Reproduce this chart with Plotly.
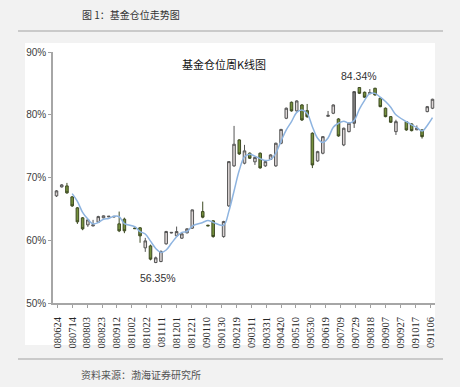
import pandas as pd
import plotly.graph_objects as go

# ---------------- data ----------------
tick_labels = ["080624", "080714", "080803", "080823", "080912", "081002", "081022",
               "081111", "081201", "081221", "090110", "090130", "090219", "090311",
               "090331", "090420", "090510", "090530", "090619", "090709", "090729",
               "090818", "090907", "090927", "091017", "091106"]

holiday_weeks = ["2008-09-29", "2008-12-29", "2009-01-26", "2009-09-28"]
all_weeks = pd.date_range("2008-06-23", periods=73, freq="7D")
weeks = [d.strftime("%Y-%m-%d") for d in all_weeks if d.strftime("%Y-%m-%d") not in holiday_weeks]

opens = [67.07, 68.50, 68.66, 66.91, 65.16, 63.57, 62.45, 62.29, 62.88, 63.57, 63.72, 63.70, 62.61, 63.36,
         61.95, 61.98, 58.79, 59.10, 56.45, 56.61, 59.43, 61.15, 60.70, 60.33, 61.18, 61.93,
         64.57, 62.40, 63.09,
         60.59, 65.48, 71.85, 75.99, 72.28, 73.87, 72.50, 73.87, 71.85, 72.88, 71.85, 75.46, 79.44, 81.99,
         80.61, 81.56, 80.65, 77.05, 72.64, 73.87, 79.75, 80.24, 79.33, 75.19, 77.31, 78.65, 84.34, 83.58,
         83.35, 84.22, 82.63, 81.04, 79.70, 77.31,
         78.90, 78.54, 77.60, 77.58, 80.50, 81.04]
highs = [68.00, 68.95, 69.14, 67.05, 65.30, 63.70, 63.30, 63.25, 63.90, 63.95, 63.85, 63.85, 64.57, 63.60,
         62.00, 62.10, 60.38, 59.30, 57.40, 58.40, 61.50, 61.30, 62.18, 61.10, 61.90, 64.90,
         66.16, 62.45, 63.20,
         63.10, 72.60, 78.22, 76.10, 75.20, 74.00, 73.30, 74.00, 72.65, 73.70, 75.55, 77.75, 81.15, 82.10,
         82.30, 81.70, 81.72, 77.20, 74.25, 76.60, 80.60, 81.65, 79.45, 77.95, 78.75, 83.75, 84.34, 83.70,
         84.10, 84.30, 82.75, 81.15, 79.80, 79.20,
         79.00, 78.65, 78.30, 77.70, 81.40, 82.55]
lows = [66.90, 68.40, 67.40, 65.30, 62.60, 61.60, 62.13, 62.20, 62.80, 63.50, 63.68, 63.65, 61.30, 61.13,
        61.80, 59.60, 58.15, 56.80, 56.35, 56.50, 59.30, 61.10, 60.60, 60.20, 61.10, 61.80,
        63.50, 62.25, 60.40,
        60.40, 65.30, 71.70, 73.60, 72.10, 72.95, 72.00, 71.40, 71.70, 72.80, 71.70, 75.30, 79.30, 80.50,
        80.50, 79.00, 79.50, 71.50, 72.50, 73.70, 79.70, 80.10, 76.50, 75.00, 77.20, 77.90, 83.30, 82.70,
        83.30, 83.05, 81.20, 79.60, 78.70, 76.78,
        77.45, 77.35, 77.55, 76.20, 80.40, 80.90]
closes = [67.87, 68.82, 67.55, 65.48, 62.93, 61.82, 63.25, 62.45, 63.77, 63.89, 63.82, 63.80, 61.50, 61.50,
          61.85, 60.70, 59.90, 56.99, 57.20, 58.20, 61.39, 61.25, 61.39, 61.02, 61.82, 64.84,
          63.68, 62.30, 60.59,
          62.98, 72.53, 75.30, 73.76, 74.24, 73.07, 73.20, 71.53, 72.53, 73.60, 75.46, 77.66, 81.04, 80.61,
          82.20, 79.17, 79.70, 72.00, 74.12, 76.51, 79.90, 81.56, 76.62, 77.85, 78.65, 83.68, 83.42, 82.79,
          83.55, 83.15, 81.29, 79.70, 78.81, 78.90,
          77.58, 77.47, 77.85, 76.51, 81.29, 82.47]
ma4 = [None, None, None, 67.43, 66.20, 64.45, 63.37, 62.61, 62.82, 63.34, 63.48, 63.82, 63.75, 62.66,
       62.16, 61.39, 60.99, 59.86, 58.70, 58.07, 58.45, 59.51, 60.56, 61.26, 61.37, 62.27,
       62.84, 63.16, 62.85,
       62.39, 64.60, 67.85, 71.14, 73.30, 73.70, 73.40, 73.01, 72.70, 72.90, 73.90, 75.80, 77.60, 78.90,
       80.38, 80.76, 80.20, 78.10, 76.25, 75.58, 76.30, 78.02, 78.65, 78.98, 78.67, 79.10, 80.90, 82.30,
       83.40, 83.40, 82.80, 82.10, 81.20, 80.00,
       78.90, 78.40, 77.95, 77.40, 78.30, 79.53]

low_label, high_label = "56.35%", "84.34%"
low_label_pos = ("2008-11-06", 54.0)
high_label_pos = ("2009-08-02", 86.2)

y_ticks = [50, 60, 70, 80, 90]
special_idx = 54  # the dark-filled rising week

# ---------------- helpers ----------------
L, R, T, B = 53, 25, 52, 84
W, H = 460, 387
PW, PH = W - L - R, H - T - B


def px(x):
    return (x - L) / PW


def py(y):
    return (H - B - y) / PH


tick_dates = ["20%s-%s-%s" % (t[:2], t[2:4], t[4:]) for t in tick_labels]

main_idx = [i for i in range(len(weeks)) if i != special_idx]

fig = go.Figure()
fig.add_trace(go.Candlestick(
    x=[weeks[i] for i in main_idx],
    open=[opens[i] for i in main_idx], high=[highs[i] for i in main_idx],
    low=[lows[i] for i in main_idx], close=[closes[i] for i in main_idx],
    increasing=dict(fillcolor="#ddd6d6", line=dict(color="#555555", width=1)),
    decreasing=dict(fillcolor="#76923c", line=dict(color="#3d4a22", width=1)),
    whiskerwidth=0, hoverinfo="skip", showlegend=False))
fig.add_trace(go.Candlestick(
    x=[weeks[special_idx]], open=[opens[special_idx]], high=[highs[special_idx]],
    low=[lows[special_idx]], close=[closes[special_idx]],
    increasing=dict(fillcolor="#7f7f7f", line=dict(color="#4d4d4d", width=1)),
    decreasing=dict(fillcolor="#7f7f7f", line=dict(color="#4d4d4d", width=1)),
    whiskerwidth=0, hoverinfo="skip", showlegend=False))
fig.add_trace(go.Scatter(
    x=weeks, y=ma4, mode="lines", line=dict(color="#8eb4e0", width=1.5, shape="spline", smoothing=1),
    hoverinfo="skip", showlegend=False))

fig.update_layout(
    width=W, height=H, margin=dict(l=L, r=R, t=T, b=B, pad=0),
    paper_bgcolor="#f2f2f2", plot_bgcolor="white", showlegend=False,
    xaxis=dict(type="date", range=["2008-06-18 07:26", "2009-11-12 08:24"],
               tickmode="array", tickvals=tick_dates, ticktext=tick_labels, tickangle=-90,
               tickfont=dict(family="Liberation Serif", size=10.5, color="#262626"),
               ticks="outside", ticklen=3, tickcolor="#a0a0a0", tickwidth=1, ticklabelstandoff=5,
               showline=True, linecolor="#a6a6a6", linewidth=1.5, showgrid=False, zeroline=False,
               rangeslider=dict(visible=False), fixedrange=True),
    yaxis=dict(range=[50, 90], tickmode="array", tickvals=y_ticks,
               ticktext=["%d%%" % v for v in y_ticks],
               tickfont=dict(family="Liberation Sans", size=10, color="#404040"),
               ticks="outside", ticklen=3, tickcolor="#a0a0a0", tickwidth=1,
               showline=True, linecolor="#a6a6a6", linewidth=1.5, showgrid=False, zeroline=False,
               fixedrange=True),
)

fig.add_shape(type="rect", xref="paper", yref="paper", x0=px(25), x1=px(435), y0=py(345), y1=py(43),
              fillcolor="white", line=dict(width=0), layer="below")
for yy in (31, 359):
    fig.add_shape(type="line", xref="paper", yref="paper", x0=px(18), x1=px(443), y0=py(yy), y1=py(yy),
                  line=dict(color="#bdbdbd", width=1.5))

fig.add_annotation(text="图 1：基金仓位走势图", xref="paper", yref="paper", x=px(80), y=py(15),
                   xanchor="left", yanchor="middle", showarrow=False,
                   font=dict(family="Noto Sans CJK SC", size=10, color="#333333"))
fig.add_annotation(text="资料来源：渤海证券研究所", xref="paper", yref="paper", x=px(79), y=py(374),
                   xanchor="left", yanchor="middle", showarrow=False,
                   font=dict(family="Noto Sans CJK SC", size=10, color="#555555"))
fig.add_annotation(text="基金仓位周K线图", xref="paper", yref="paper", x=px(224), y=py(64),
                   xanchor="center", yanchor="middle", showarrow=False,
                   font=dict(family="Noto Sans CJK SC", size=11, color="#111111"))
fig.add_annotation(text=low_label, x=low_label_pos[0], y=low_label_pos[1], xref="x", yref="y",
                   showarrow=False, xanchor="center", yanchor="middle",
                   font=dict(family="Liberation Sans", size=10.5, color="#333333"))
fig.add_annotation(text=high_label, x=high_label_pos[0], y=high_label_pos[1], xref="x", yref="y",
                   showarrow=False, xanchor="center", yanchor="middle",
                   font=dict(family="Liberation Sans", size=10.5, color="#333333"))

fig.write_html("out.html")
